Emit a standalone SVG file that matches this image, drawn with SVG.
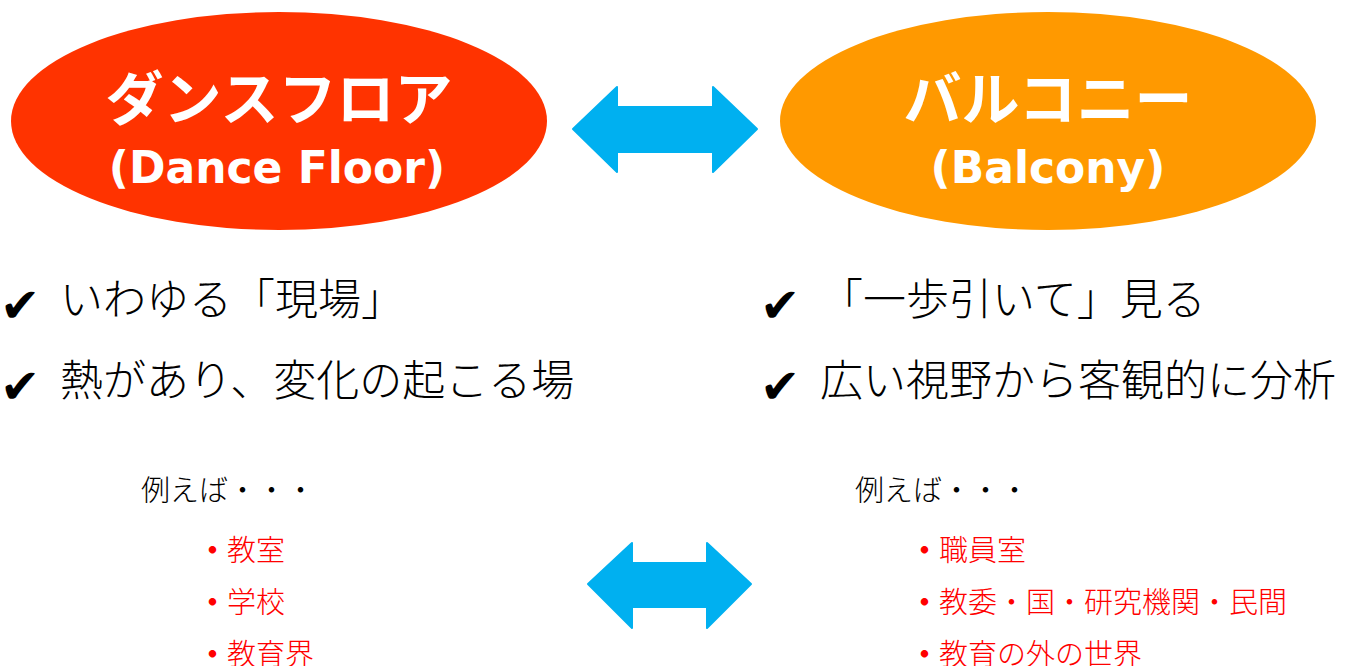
<svg xmlns="http://www.w3.org/2000/svg" width="1348" height="666" viewBox="0 0 1348 666">
<style>
.jt{font-family:"Noto Sans CJK JP","Noto Sans CJK SC",sans-serif;font-weight:700;fill:#fff;text-anchor:middle}
.en{font-family:"DejaVu Sans","Noto Sans CJK JP",sans-serif;font-weight:700;fill:#fff;text-anchor:middle}
.ck{font-family:"DejaVu Sans",sans-serif;fill:#000}
.pt{font-family:"Noto Sans CJK JP","Noto Sans CJK SC",sans-serif;font-weight:300;fill:#000}
.ex{font-family:"Noto Sans CJK JP","Noto Sans CJK SC",sans-serif;font-weight:300;fill:#000;font-size:29px}
.rd{font-family:"Noto Sans CJK JP","Noto Sans CJK SC",sans-serif;font-weight:300;fill:#f00;font-size:29px}
.bl{font-weight:700}
.arr{fill:#00b0f0;stroke:#00b0f0;stroke-width:2;stroke-linejoin:round}
</style>
<rect width="1348" height="666" fill="#fff"/>
<g id="dance-floor">
<ellipse cx="279" cy="121" rx="268" ry="109" fill="#ff3300"/>
<text class="jt" x="279" y="120" font-size="58">ダンスフロア</text>
<text class="en" x="277" y="183" font-size="44">(Dance Floor)</text>
</g>
<g id="balcony">
<ellipse cx="1048" cy="121" rx="268" ry="109" fill="#ff9900"/>
<text class="jt" x="1048" y="120" font-size="58">バルコニー</text>
<text class="en" x="1048" y="183" font-size="44">(Balcony)</text>
</g>
<g id="dance-points">
<text class="ck" x="0" y="322" font-size="48">✔</text>
<text class="pt" x="60" y="315" font-size="43">いわゆる「現場」</text>
<text class="ck" x="0" y="403" font-size="48">✔</text>
<text class="pt" x="60" y="396" font-size="43">熱があり、変化の起こる場</text>
</g>
<g id="balcony-points">
<text class="ck" x="760" y="322" font-size="48">✔</text>
<text class="pt" x="820" y="315" font-size="43">「一歩引いて」見る</text>
<text class="ck" x="760" y="403" font-size="48">✔</text>
<text class="pt" x="820" y="396" font-size="43">広い視野から客観的に分析</text>
</g>
<g id="dance-examples">
<text class="ex" x="141" y="501">例えば・・・</text>
<text class="rd" x="198" y="561"><tspan class="bl">・</tspan>教室</text>
<text class="rd" x="198" y="613"><tspan class="bl">・</tspan>学校</text>
<text class="rd" x="198" y="665"><tspan class="bl">・</tspan>教育界</text>
</g>
<g id="balcony-examples">
<text class="ex" x="855" y="501">例えば・・・</text>
<text class="rd" x="910" y="561"><tspan class="bl">・</tspan>職員室</text>
<text class="rd" x="910" y="613"><tspan class="bl">・</tspan>教委・国・研究機関・民間</text>
<text class="rd" x="910" y="665"><tspan class="bl">・</tspan>教育の外の世界</text>
</g>
<g id="connectors">
<polygon class="arr" points="573,129 617,87 617,107 713,107 713,87 757,129 713,172 713,152 617,152 617,172"/>
<polygon class="arr" points="588,584 632,543 632,563 707,563 707,543 751,584 707,628 707,607 632,607 632,628"/>
</g>
</svg>
